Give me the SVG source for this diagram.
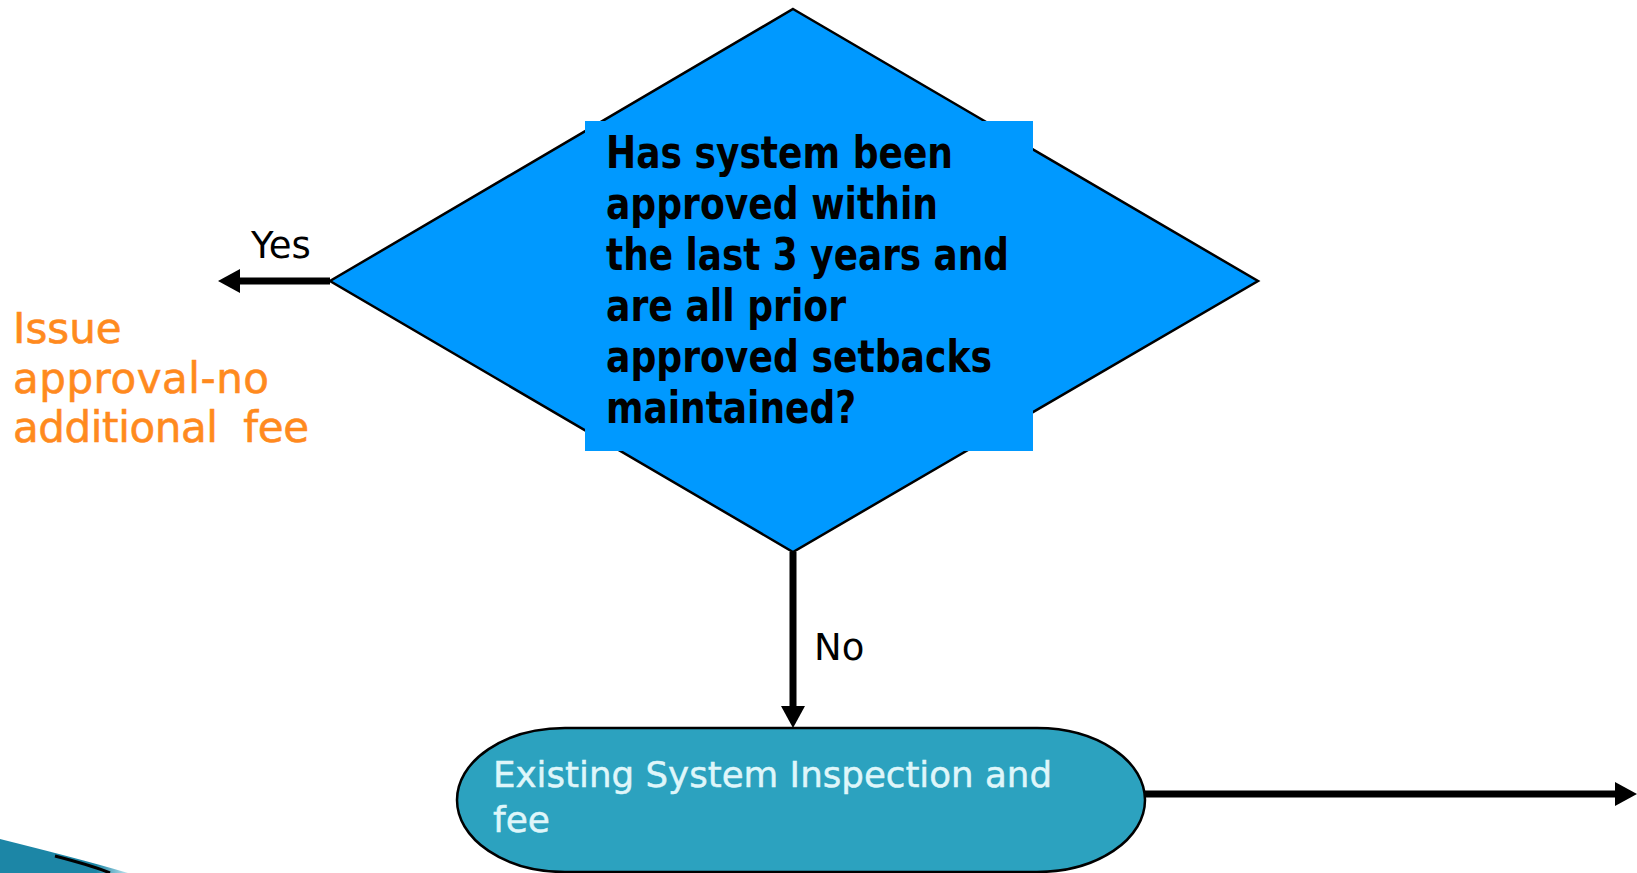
<svg xmlns="http://www.w3.org/2000/svg" width="1637" height="873" viewBox="0 0 1637 873">
<style>
.q{font-family:"DejaVu Sans","Liberation Sans",sans-serif;font-weight:bold;font-size:44px;fill:#000;font-stretch:condensed}
.lbl{font-family:"DejaVu Sans","Liberation Sans",sans-serif;font-size:37px;fill:#000}
.or{font-family:"DejaVu Sans","Liberation Sans",sans-serif;font-size:42px;fill:#FF8A1E;stroke:#FF8A1E;stroke-width:0.6}
.term{font-family:"DejaVu Sans","Liberation Sans",sans-serif;font-size:36px;fill:#DFF6FA;stroke:#DFF6FA;stroke-width:0.5}
.conn{stroke:#000;stroke-width:7;fill:none}
</style>
<defs>
<marker id="ah" markerUnits="userSpaceOnUse" markerWidth="22" markerHeight="24" viewBox="0 0 22 24" refX="0" refY="12" orient="auto">
<path d="M0,0 L22,12 L0,24 Z" fill="#000"/>
</marker>
<linearGradient id="fade" x1="0" y1="0" x2="1" y2="0">
<stop offset="0" stop-color="#1C86A6"/>
<stop offset="0.75" stop-color="#1C86A6"/>
<stop offset="1" stop-color="#BFE3EE"/>
</linearGradient>
</defs>
<rect width="1637" height="873" fill="#fff"/>
<g id="decor">
<path d="M0,839 C45,850 90,862 128,873 L0,873 Z" fill="url(#fade)"/>
<path d="M55,856 C78,862 98,868 110,873" stroke="#000" stroke-width="3" fill="none"/>
</g>
<g id="connectors">
<path class="conn" d="M330,281 L240,281" marker-end="url(#ah)"/>
<path class="conn" d="M793,552 L793,706" marker-end="url(#ah)"/>
<path class="conn" d="M1144,794 L1615,794" marker-end="url(#ah)"/>
</g>
<g id="decision">
<polygon points="793,9 1258,281 793,552 330,281" fill="#0099FF" stroke="#000" stroke-width="2.5"/>
<rect x="585" y="121" width="448" height="330" fill="#0099FF"/>
<text class="q" x="606" y="168" textLength="347" lengthAdjust="spacingAndGlyphs">Has system been</text>
<text class="q" x="606" y="219" textLength="332" lengthAdjust="spacingAndGlyphs">approved within</text>
<text class="q" x="606" y="270" textLength="403" lengthAdjust="spacingAndGlyphs">the last 3 years and</text>
<text class="q" x="606" y="321" textLength="240" lengthAdjust="spacingAndGlyphs">are all prior</text>
<text class="q" x="606" y="372" textLength="386" lengthAdjust="spacingAndGlyphs">approved setbacks</text>
<text class="q" x="606" y="423" textLength="250" lengthAdjust="spacingAndGlyphs">maintained?</text>
</g>
<g id="label-yes"><text class="lbl" x="251" y="258">Yes</text></g>
<g id="label-no"><text class="lbl" x="814" y="660">No</text></g>
<g id="approval">
<text class="or" x="13" y="343">Issue</text>
<text class="or" x="13" y="393" textLength="256" lengthAdjust="spacing">approval-no</text>
<text class="or" x="13" y="442" textLength="296" lengthAdjust="spacing">additional&#160; fee</text>
</g>
<g id="inspection">
<path d="M565,728 L1037,728 A108,72 0 0 1 1037,872 L565,872 A108,72 0 0 1 565,728 Z" fill="#2CA2BF" stroke="#000" stroke-width="2.5"/>
<text class="term" x="493" y="787" textLength="559" lengthAdjust="spacingAndGlyphs">Existing System Inspection and</text>
<text class="term" x="493" y="832">fee</text>
</g>
</svg>
